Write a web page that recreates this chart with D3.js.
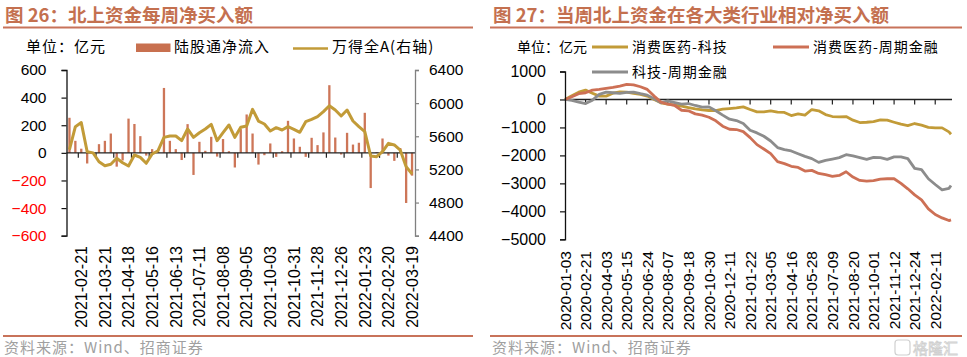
<!DOCTYPE html>
<html><head><meta charset="utf-8">
<script src="https://cdn.jsdelivr.net/npm/d3@7"></script>
<style>body{margin:0;background:#fff} svg{display:block}</style>
</head><body>
<svg id="c" width="967" height="357"></svg>
<script>
// ---------- Chart 26 data ----------
const weekDates = [
"2021-02-07","2021-02-14","2021-02-21","2021-02-28","2021-03-07","2021-03-14","2021-03-21","2021-03-28",
"2021-04-04","2021-04-11","2021-04-18","2021-04-25","2021-05-02","2021-05-09","2021-05-16","2021-05-23",
"2021-05-30","2021-06-06","2021-06-13","2021-06-20","2021-06-27","2021-07-04","2021-07-11","2021-07-18",
"2021-07-25","2021-08-01","2021-08-08","2021-08-15","2021-08-22","2021-08-29","2021-09-05","2021-09-12",
"2021-09-19","2021-09-26","2021-10-03","2021-10-10","2021-10-17","2021-10-24","2021-10-31","2021-11-07",
"2021-11-14","2021-11-21","2021-11-28","2021-12-05","2021-12-12","2021-12-19","2021-12-26","2022-01-02",
"2022-01-09","2022-01-16","2022-01-23","2022-01-30","2022-02-06","2022-02-13","2022-02-20","2022-02-27",
"2022-03-06","2022-03-13","2022-03-19"];
const northFlow = [254,87,30,-77,5,63,87,140,-100,-55,248,209,121,-20,27,8,
470,87,27,-52,208,-160,80,15,116,-27,100,12,-106,172,278,140,
-85,-17,68,-29,12,232,104,44,-29,109,56,148,490,111,-12,145,
60,73,290,-255,6,104,-20,-58,35,-363,-165];
const windA = [5440,5716,5765,5414,5400,5293,5245,5262,5334,5281,5241,5374,5346,5274,5386,5426,
5587,5603,5603,5547,5688,5587,5643,5688,5744,5547,5643,5736,5587,5708,5724,5925,
5784,5748,5664,5704,5676,5716,5684,5648,5776,5804,5837,5897,5969,5917,5845,5917,
5784,5716,5656,5362,5354,5414,5515,5495,5434,5233,5144];
const leftTicks = [-600,-400,-200,0,200,400,600];
const rightTicks = [4400,4800,5200,5600,6000,6400];

// ---------- Chart 27 data ----------
const dayLabels = ["2020-01-03","2020-02-21","2020-04-03","2020-05-15","2020-06-24","2020-08-07","2020-09-18",
"2020-10-30","2020-12-11","2021-01-22","2021-03-05","2021-04-16","2021-05-28","2021-07-09","2021-08-20",
"2021-10-01","2021-11-12","2021-12-24","2022-02-11"];
const totalDays = 563;
const sampleDay = [0,10,20,30,40,50,60,70,80,90,100,110,120,130,140,150,160,170,180,190,200,210,220,230,
240,250,260,270,280,290,300,310,320,330,340,350,360,370,380,390,400,410,420,430,440,450,460,470,480,490,
500,510,520,530,540,550,560,563];
const consTech = [0,130,260,335,225,120,120,225,275,260,215,180,120,0,-120,-170,-200,-240,-290,-335,-370,-395,-395,-345,
-325,-300,-265,-360,-445,-445,-405,-455,-465,-575,-515,-560,-360,-405,-540,-610,-620,-610,-740,-825,-815,-790,-730,-740,-815,-885,
-935,-860,-920,-995,-1015,-1015,-1160,-1245];
const consFin = [0,95,205,240,335,360,395,430,480,540,525,455,360,120,-95,-170,-215,-385,-405,-515,-560,-635,-765,-955,
-1065,-1075,-1150,-1365,-1615,-1770,-1935,-2225,-2295,-2390,-2430,-2560,-2535,-2645,-2690,-2750,-2715,-2585,-2775,-2895,-2920,-2905,-2845,-2835,-2835,-3000,
-3195,-3410,-3590,-3910,-4115,-4235,-4330,-4305];
const techFin = [0,-35,-95,-145,-25,180,265,240,215,250,265,205,155,25,-120,-50,-110,-170,-145,-215,-275,-265,-405,-560,
-705,-755,-860,-1100,-1195,-1315,-1485,-1720,-1795,-1840,-1940,-2035,-2115,-2250,-2175,-2130,-2080,-1975,-2020,-2080,-2140,-2070,-2080,-2140,-2055,-2055,
-2115,-2465,-2510,-2835,-3040,-3230,-3180,-3075];
const ticks27 = [-5000,-4000,-3000,-2000,-1000,0,1000];

// ---------- common ----------
const svg = d3.select("#c");
const CJK = "'Noto Sans CJK SC','Noto Sans',sans-serif";
const LAT = "'Liberation Sans',Arial,sans-serif";
const titleCol = "#C4704F", ruleCol = "#C8735A";
const gold = "#C29B38", red = "#CD7055", gray = "#8C8C8C", barCol = "#CD7658";

function frame(x0, x1, title, tx) {
  svg.append("text").attr("x", tx).attr("y", 22).attr("font-family", CJK).attr("font-weight", 700)
    .attr("font-size", 18.5).attr("fill", titleCol).text(title);
  svg.append("line").attr("x1", x0).attr("x2", x1).attr("y1", 27.5).attr("y2", 27.5)
    .attr("stroke", ruleCol).attr("stroke-width", 2);
  svg.append("line").attr("x1", x0).attr("x2", x1).attr("y1", 336).attr("y2", 336)
    .attr("stroke", ruleCol).attr("stroke-width", 2);
  svg.append("text").attr("x", tx - 1).attr("y", 353).attr("font-family", CJK).attr("font-size", 15)
    .attr("letter-spacing", 1).attr("fill", "#A0A0A0").text("资料来源：Wind、招商证券");
}
frame(3, 473, "图 26：北上资金每周净买入额", 5);
frame(490, 962, "图 27：当周北上资金在各大类行业相对净买入额", 493);

// ---------- Chart 26 ----------
{
  const xb = d3.scaleBand().domain(weekDates).range([66.5, 415]);
  const yL = d3.scaleLinear().domain([-600, 600]).range([235.7, 70]);
  const yR = d3.scaleLinear().domain([4400, 6400]).range([235.7, 70]);
  const g = svg.append("g");
  const bw = 2.3;
  g.selectAll("rect.bar").data(northFlow).join("rect").attr("class", "bar")
    .attr("x", (d, i) => xb(weekDates[i]) + xb.bandwidth() / 2 - bw / 2)
    .attr("width", bw)
    .attr("y", d => yL(Math.max(0, d)))
    .attr("height", d => Math.abs(yL(d) - yL(0)))
    .attr("fill", barCol);

  g.append("line").attr("x1", 66.5).attr("x2", 415).attr("y1", yL(0)).attr("y2", yL(0))
    .attr("stroke", "#222").attr("stroke-width", 1.4);
  g.selectAll("line.xt").data(weekDates.filter((d, i) => i % 3 === 2)).join("line").attr("class", "xt")
    .attr("x1", d => xb(d)).attr("x2", d => xb(d)).attr("y1", yL(0)).attr("y2", yL(0) + 5)
    .attr("stroke", "#222").attr("stroke-width", 1.2);

  g.append("path").datum(windA)
    .attr("d", d3.line().x((d, i) => xb(weekDates[i]) + xb.bandwidth() / 2).y(d => yR(d)))
    .attr("fill", "none").attr("stroke", gold).attr("stroke-width", 3).attr("stroke-linejoin", "round");

  const ax = g.append("g").attr("transform", "translate(66.5,0)")
    .call(d3.axisLeft(yL).tickValues(leftTicks).tickSize(5).tickPadding(15).tickFormat(d3.format("d")));
  ax.select(".domain").attr("stroke", "#111").attr("stroke-width", 1.3);
  ax.selectAll(".tick line").attr("stroke", "#111").attr("stroke-width", 1.2);
  ax.selectAll("text").attr("font-family", LAT).attr("font-size", 15.5)
    .attr("fill", d => d < 0 ? "#FF0000" : "#000");

  const ar = g.append("g").attr("transform", "translate(415,0)")
    .call(d3.axisRight(yR).tickValues(rightTicks).tickSize(4).tickPadding(10).tickFormat(d3.format("d")));
  ar.select(".domain").attr("stroke", "#808080").attr("stroke-width", 1.3);
  ar.selectAll(".tick line").attr("stroke", "#808080").attr("stroke-width", 1.2);
  ar.selectAll("text").attr("font-family", LAT).attr("font-size", 15.5).attr("fill", "#000");

  const labs = weekDates.filter((d, i) => i % 4 === 2);
  const axb = g.append("g").attr("transform", "translate(0,246)")
    .call(d3.axisBottom(xb).tickValues(labs).tickSize(0).tickPadding(0));
  axb.select(".domain").remove();
  axb.selectAll("text").attr("font-family", LAT).attr("font-size", 16).attr("fill", "#000")
    .attr("text-anchor", "end").attr("transform", "rotate(-90)").attr("x", 0).attr("y", 0).attr("dy", "0.36em");

  svg.append("text").attr("x", 26).attr("y", 52).attr("font-family", CJK).attr("font-size", 15)
    .attr("letter-spacing", 1).attr("fill", "#000").text("单位：亿元");
  svg.append("rect").attr("x", 136).attr("y", 43.5).attr("width", 34.5).attr("height", 8.5).attr("fill", "#C8704F");
  svg.append("text").attr("x", 174).attr("y", 52).attr("font-family", CJK).attr("font-size", 15)
    .attr("letter-spacing", 1).attr("fill", "#000").text("陆股通净流入");
  svg.append("line").attr("x1", 293).attr("x2", 328).attr("y1", 48.5).attr("y2", 48.5)
    .attr("stroke", gold).attr("stroke-width", 2.6);
  svg.append("text").attr("x", 332).attr("y", 52).attr("font-family", CJK).attr("font-size", 15)
    .attr("letter-spacing", 1).attr("fill", "#000").text("万得全A(右轴)");
}

// ---------- Chart 27 ----------
{
  const x = d3.scaleLinear().domain([0, totalDays]).range([565, 951]);
  const y = d3.scaleLinear().domain([-5000, 1000]).range([239.3, 71.5]);
  const g = svg.append("g");

  g.append("line").attr("x1", 565).attr("x2", 952).attr("y1", y(0)).attr("y2", y(0))
    .attr("stroke", "#222").attr("stroke-width", 1.4);
  const tickDays = dayLabels.map((d, i) => i * 30);
  g.selectAll("line.xt").data(tickDays.slice(1)).join("line").attr("class", "xt")
    .attr("x1", d => x(d)).attr("x2", d => x(d)).attr("y1", y(0)).attr("y2", y(0) + 5)
    .attr("stroke", "#222").attr("stroke-width", 1.2);

  const line = d3.line().x((d, i) => x(sampleDay[i])).y(d => y(d)).curve(d3.curveLinear);
  [[consTech, gold], [techFin, gray], [consFin, red]].forEach(([s, c]) => {
    g.append("path").datum(s).attr("d", line).attr("fill", "none").attr("stroke", c)
      .attr("stroke-width", 2.8).attr("stroke-linejoin", "round");
  });

  const ax = g.append("g").attr("transform", "translate(565,0)")
    .call(d3.axisLeft(y).tickValues(ticks27).tickSize(5).tickPadding(14).tickFormat(d3.format("d")));
  ax.select(".domain").attr("stroke", "#111").attr("stroke-width", 1.3);
  ax.selectAll(".tick line").attr("stroke", "#111").attr("stroke-width", 1.2);
  ax.selectAll("text").attr("font-family", LAT).attr("font-size", 16).attr("fill", "#000");

  g.append("g").selectAll("text").data(dayLabels).join("text")
    .attr("transform", (d, i) => `translate(${x(i * 30)},251) rotate(-90)`)
    .attr("text-anchor", "end").attr("dy", "0.36em")
    .attr("font-family", LAT).attr("font-size", 15.5).attr("fill", "#000").text(d => d);

  svg.append("text").attr("x", 517).attr("y", 52).attr("font-family", CJK).attr("font-size", 14)
    .attr("fill", "#000").text("单位：亿元");
  const leg = [[592, 47, gold, "消费医药-科技"], [773, 47, red, "消费医药-周期金融"], [592, 72, gray, "科技-周期金融"]];
  leg.forEach(([lx, ly, c, t]) => {
    svg.append("line").attr("x1", lx).attr("x2", lx + 36).attr("y1", ly).attr("y2", ly)
      .attr("stroke", c).attr("stroke-width", 2.8);
    svg.append("text").attr("x", lx + 40).attr("y", ly + 5).attr("font-family", CJK).attr("font-size", 14)
      .attr("letter-spacing", 1).attr("fill", "#000").text(t);
  });

  svg.append("text").attr("x", 913).attr("y", 354).attr("font-family", CJK).attr("font-size", 15)
    .attr("fill", "none").attr("stroke", "#d0d0d0").attr("stroke-width", 0.8).text("格隆汇");
  svg.append("rect").attr("x", 895).attr("y", 340).attr("width", 15).attr("height", 15).attr("rx", 3)
    .attr("fill", "none").attr("stroke", "#d0d0d0").attr("stroke-width", 1.2);
}
</script>
</body></html>
